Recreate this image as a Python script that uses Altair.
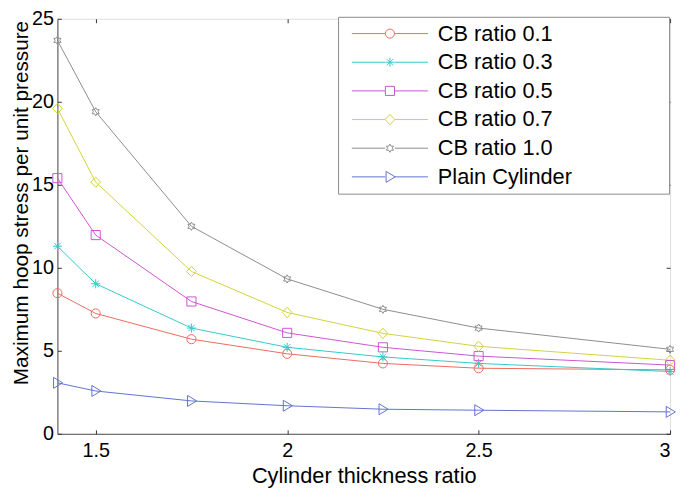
import altair as alt
import pandas as pd

# ---- data ----
x_vals = [1.4, 1.5, 1.75, 2.0, 2.25, 2.5, 3.0]
series_names = ["CB ratio 0.1", "CB ratio 0.3", "CB ratio 0.5",
                "CB ratio 0.7", "CB ratio 1.0", "Plain Cylinder"]
cb01 = [8.47, 7.25, 5.70, 4.82, 4.24, 3.95, 3.85]
cb03 = [11.3, 9.04, 6.37, 5.21, 4.63, 4.24, 3.75]
cb05 = [15.4, 11.97, 7.97, 6.08, 5.21, 4.68, 4.14]
cb07 = [19.6, 15.16, 9.78, 7.31, 6.05, 5.27, 4.43]
cb10 = [23.7, 19.4, 12.5, 9.33, 7.50, 6.37, 5.09]
plain = [3.07, 2.58, 1.98, 1.69, 1.48, 1.42, 1.32]
x_ticks = [1.5, 2, 2.5, 3]
y_ticks = [0, 5, 10, 15, 20, 25]

colors = ["#ee6a5e", "#33c9c9", "#cc55cc", "#d2d23c", "#8c8c8c", "#6272cf"]

rows = []
for name, vals in zip(series_names, [cb01, cb03, cb05, cb07, cb10, plain]):
    for xv, yv in zip(x_vals, vals):
        rows.append({"x": xv, "y": yv, "series": name})
df = pd.DataFrame(rows)

# ---- marker shapes (unit SVG paths) ----
def poly(pts, dx=0.0, s=1.0):
    return "M" + "L".join(f"{px*s+dx:.3f},{py*s:.3f}" for px, py in pts) + "Z"

def segs(lines, dx=0.0, s=1.0):
    return "".join("M" + "L".join(f"{px*s+dx:.3f},{py*s:.3f}" for px, py in ln) for ln in lines)

def circ(dx=0.0, s=1.0):
    return (f"M{dx+s:.3f},0A{s:.3f},{s:.3f} 0 1,1 {dx-s:.3f},0"
            f"A{s:.3f},{s:.3f} 0 1,1 {dx+s:.3f},0Z")

hexa = [(0, -1), (0.289, -0.5), (0.866, -0.5), (0.577, 0), (0.866, 0.5), (0.289, 0.5),
        (0, 1), (-0.289, 0.5), (-0.866, 0.5), (-0.577, 0), (-0.866, -0.5), (-0.289, -0.5)]
hexa = [(a * 0.9, b * 0.9) for a, b in hexa]
aster = [[(-1, 0), (1, 0)], [(0, -1), (0, 1)], [(-0.7, -0.7), (0.7, 0.7)], [(-0.7, 0.7), (0.7, -0.7)]]
square = [(-1, -1), (1, -1), (1, 1), (-1, 1)]
diamond = [(0, -1.15), (1.05, 0), (0, 1.15), (-1.05, 0)]
tri = [(-0.85, -1.2), (1.15, 0), (-0.85, 1.2)]

def marker(i, dx=0.0, s=1.0):
    if i == 0:
        return circ(dx, s)
    if i == 1:
        return segs(aster, dx, s)
    if i == 2:
        return poly(square, dx, s)
    if i == 3:
        return poly(diamond, dx, s)
    if i == 4:
        return poly(hexa, dx, s)
    return poly(tri, dx, s)

point_paths = [marker(i) for i in range(6)]
# legend symbol: a line with the marker in the middle
L0, L1, MC = -0.6, 14.8, 7.1
legend_paths = [f"M{L0},0L{MC-0.95:.2f},0M{MC+0.95:.2f},0L{L1},0" + marker(i, MC, 0.92)
                for i in range(6)]

FONT = "Liberation Sans"
PLOT_TOP = 16
xscale = alt.Scale(domain=[1.4, 3], nice=False, zero=False)
yscale = alt.Scale(domain=[0, 25], nice=False, zero=True)
cscale = alt.Scale(domain=series_names, range=colors)

def inner_axis(orient, values):
    return alt.Axis(orient=orient, values=values, labels=False, title=None, domain=False,
                    grid=False, ticks=True, tickSize=4, offset=-4, tickColor="#333333",
                    tickWidth=1)

base = alt.Chart(df)

lines = base.mark_line(strokeWidth=1).encode(
    x=alt.X("x:Q", scale=xscale,
            axis=alt.Axis(orient="bottom", values=x_ticks, format="~g", ticks=False, grid=False,
                          title="Cylinder thickness ratio", labelFontSize=20, titleFontSize=22,
                          labelPadding=7, titlePadding=5, domainColor="#505050",
                          labelColor="black", titleColor="black", titleFontWeight="normal",
                          labelFont=FONT, titleFont=FONT)),
    y=alt.Y("y:Q", scale=yscale,
            axis=alt.Axis(orient="left", values=y_ticks, ticks=False, grid=False,
                          title="Maximum hoop stress per unit pressure", labelFontSize=20,
                          titleFontSize=21, labelPadding=4, titlePadding=0,
                          titleY=202 - PLOT_TOP,
                          domainColor="#505050", labelColor="black", titleColor="black",
                          titleFontWeight="normal", labelFont=FONT, titleFont=FONT)),
    color=alt.Color("series:N", scale=cscale, legend=None),
    detail="series:N",
)

points = base.mark_point(filled=False, size=85, strokeWidth=1, opacity=1).encode(
    x=alt.X("x:Q", scale=xscale, axis=inner_axis("bottom", x_ticks)),
    y=alt.Y("y:Q", scale=yscale, axis=inner_axis("left", y_ticks)),
    color=alt.Color("series:N", scale=cscale, legend=None),
    shape=alt.Shape("series:N", scale=alt.Scale(domain=series_names, range=point_paths), legend=None),
)

# non-breaking spaces (kept by a zero-width end mark) widen the legend box
pad_spaces = "\u00a0" * 15 + "\u200b"

def make_legend():
    return alt.Legend(title=None, orient="none", legendX=284, legendY=16 - 2 - PLOT_TOP,
                      direction="vertical", symbolSize=100, symbolOpacity=1,
                      symbolStrokeWidth=1, symbolFillColor="transparent",
                      labelFontSize=22, labelFont=FONT, labelColor="black",
                      labelOffset=73, rowPadding=7, padding=6, labelLimit=600,
                      strokeColor="#8a8a8a", fillColor="white",
                      labelExpr="datum.label + '" + pad_spaces + "'")

legend_layer = base.mark_point(filled=False, size=85, strokeWidth=1, opacity=0).encode(
    x=alt.X("x:Q", scale=xscale, axis=inner_axis("top", x_ticks)),
    y=alt.Y("y:Q", scale=yscale, axis=inner_axis("right", y_ticks)),
    color=alt.Color("series:N", scale=cscale, legend=make_legend()),
    shape=alt.Shape("series:N", scale=alt.Scale(domain=series_names, range=legend_paths),
                    legend=make_legend()),
)

chart = alt.layer(lines, points, legend_layer).resolve_scale(
    color="independent", shape="independent"
).resolve_axis(
    x="independent", y="independent"
).properties(
    width=620, height=436 - PLOT_TOP,
    autosize=alt.AutoSizeParams(type="none"),
    padding={"left": 50, "top": PLOT_TOP - 8, "right": 7, "bottom": 56},
    background="white",
).configure_view(
    stroke="#8a8a8a", strokeWidth=1
).configure(font=FONT)

chart.save("out.html", embed_options={"renderer": "svg", "actions": False})
